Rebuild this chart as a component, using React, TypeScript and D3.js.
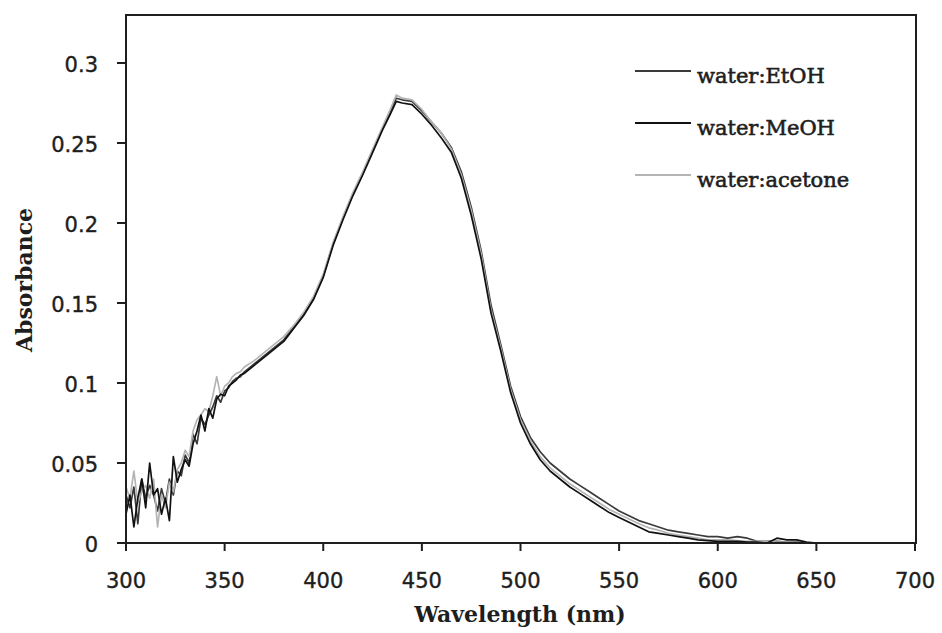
import React from "react";
import * as d3 from "d3";

const wavelengths = [
  300, 302, 304, 306, 308, 310, 312, 314, 316, 318, 320, 322, 324, 326, 328, 330,
  332, 334, 336, 338, 340, 342, 344, 346, 348, 350, 352, 354, 356, 358, 360,
  365, 370, 375, 380, 385, 390, 395, 400, 405, 410, 415, 420, 425, 430, 434, 437,
  440, 445, 450, 455, 460, 465, 470, 475, 480, 485, 490, 495, 500, 505, 510, 515,
  520, 525, 530, 535, 540, 545, 550, 555, 560, 565, 570, 575, 580, 585, 590, 595,
  600, 605, 610, 615, 620, 625, 630, 635, 640, 645, 650, 655, 660, 665, 670, 675,
  680, 685, 690, 695, 700,
];

const etoh = [
  0.030, 0.022, 0.035, 0.012, 0.040, 0.028, 0.036, 0.030, 0.020, 0.034, 0.025, 0.040, 0.030, 0.045, 0.042, 0.055,
  0.050, 0.068, 0.062, 0.078, 0.074, 0.080, 0.085, 0.092, 0.088, 0.095, 0.097, 0.101, 0.103, 0.104, 0.107,
  0.112, 0.117, 0.122, 0.127, 0.135, 0.143, 0.153, 0.167, 0.187, 0.203, 0.218, 0.231, 0.245, 0.259, 0.270, 0.278,
  0.277, 0.276, 0.270, 0.263, 0.256, 0.247, 0.232, 0.210, 0.183, 0.149, 0.124, 0.098, 0.079, 0.066, 0.057, 0.050,
  0.045, 0.040, 0.036, 0.032, 0.028, 0.024, 0.020, 0.017, 0.014, 0.012, 0.010, 0.008, 0.007, 0.006, 0.005, 0.004,
  0.004, 0.003, 0.004, 0.003, 0.001, 0.001, 0.001, 0.0005, 0.0005, 0.0, 0.0, 0.0, 0.0, 0.0, 0.0, 0.0,
  0.0, 0.0, 0.0, 0.0, 0.0,
];

const meoh = [
  0.018, 0.030, 0.010, 0.028, 0.040, 0.022, 0.050, 0.030, 0.034, 0.018, 0.028, 0.014, 0.054, 0.038, 0.046, 0.052,
  0.048, 0.062, 0.070, 0.080, 0.070, 0.084, 0.078, 0.090, 0.093, 0.092, 0.098, 0.100, 0.102, 0.105, 0.106,
  0.111, 0.116, 0.121, 0.126, 0.134, 0.142, 0.152, 0.166, 0.186, 0.202, 0.217, 0.230, 0.244, 0.258, 0.268, 0.276,
  0.275, 0.274, 0.268, 0.261, 0.253, 0.244, 0.228, 0.205, 0.178, 0.144, 0.120, 0.094, 0.075, 0.062, 0.052, 0.045,
  0.040, 0.035, 0.031, 0.027, 0.023, 0.019, 0.016, 0.013, 0.010, 0.007, 0.006, 0.005, 0.004, 0.003, 0.002, 0.0015,
  0.001, 0.001, 0.001, 0.0005, 0.0005, 0.0, 0.003, 0.002, 0.002, 0.0005, 0.0, 0.0, 0.0, 0.0, 0.0, 0.0,
  0.0, 0.0, 0.0, 0.0, 0.0,
];

const acetone = [
  0.035, 0.028, 0.045, 0.025, 0.032, 0.036, 0.028, 0.040, 0.010, 0.030, 0.022, 0.038, 0.032, 0.046, 0.050, 0.058,
  0.054, 0.070, 0.077, 0.080, 0.084, 0.082, 0.092, 0.104, 0.092, 0.098, 0.100, 0.104, 0.106, 0.107, 0.110,
  0.114, 0.119, 0.124, 0.129, 0.136, 0.144, 0.154, 0.168, 0.188, 0.204, 0.219, 0.232, 0.246, 0.260, 0.271, 0.280,
  0.278, 0.277, 0.271, 0.263, 0.256, 0.246, 0.230, 0.208, 0.181, 0.146, 0.122, 0.096, 0.077, 0.064, 0.054, 0.047,
  0.042, 0.037, 0.033, 0.029, 0.025, 0.021, 0.018, 0.015, 0.012, 0.0095, 0.008, 0.006, 0.005, 0.004, 0.003, 0.002,
  0.002, 0.002, 0.0015, 0.001, 0.001, 0.001, 0.0005, 0.0005, 0.0003, 0.0, 0.0, 0.0, 0.0, 0.0, 0.0, 0.0,
  0.0, 0.0, 0.0, 0.0, 0.0,
];

const seriesNames = ["water:EtOH", "water:MeOH", "water:acetone"];
const seriesColors = ["#3a3a3a", "#111111", "#b4b4b4"];
const xTicks = [300, 350, 400, 450, 500, 550, 600, 650, 700];
const yTicks = [0, 0.05, 0.1, 0.15, 0.2, 0.25, 0.3];
const yTickLabels = ["0", "0.05", "0.1", "0.15", "0.2", "0.25", "0.3"];

const W = 942;
const H = 633;
const left = 126;
const right = 915;
const top = 15;
const bottom = 543;

export default function App() {
  const x = d3.scaleLinear().domain([300, 700]).range([left, right]);
  const y = d3.scaleLinear().domain([0, 0.33]).range([bottom, top]);
  const allSeries = [etoh, meoh, acetone];
  const line = d3
    .line<number>()
    .x((_, i) => x(wavelengths[i]))
    .y((d) => y(d));
  const drawOrder = [0, 2, 1];
  const tickFont = "'DejaVu Sans', sans-serif";
  const serif = "'DejaVu Serif', serif";
  const ink = "#1e1e1e";

  return (
    <svg
      width={W}
      height={H}
      style={{ position: "absolute", left: 0, top: 0, background: "#fff" }}
    >
      <rect x={0} y={0} width={W} height={H} fill="#fff" />
      <g fill="none" strokeLinejoin="round">
        {drawOrder.map((si) => (
          <path
            key={si}
            d={line(allSeries[si]) || ""}
            stroke={seriesColors[si]}
            strokeWidth={1.7}
          />
        ))}
      </g>
      <rect
        x={left}
        y={top}
        width={right + 1 - left}
        height={bottom - top}
        fill="none"
        stroke={ink}
        strokeWidth={2}
      />
      <g>
        {yTicks.map((t, i) => (
          <g key={t}>
            <line x1={left - 9} x2={left} y1={y(t)} y2={y(t)} stroke={ink} strokeWidth={2} />
            <text
              x={98}
              y={y(t) + 9}
              textAnchor="end"
              fontFamily={tickFont}
              fontSize={21}
              fill={ink}
              stroke={ink}
              strokeWidth={0.4}
            >
              {yTickLabels[i]}
            </text>
          </g>
        ))}
      </g>
      <g>
        {xTicks.map((t) => (
          <g key={t}>
            <line x1={x(t)} x2={x(t)} y1={bottom} y2={bottom + 8} stroke={ink} strokeWidth={2} />
            <text
              x={x(t)}
              y={588}
              textAnchor="middle"
              fontFamily={tickFont}
              fontSize={21}
              fill={ink}
              stroke={ink}
              strokeWidth={0.4}
            >
              {t}
            </text>
          </g>
        ))}
      </g>
      <text
        x={520}
        y={622}
        textAnchor="middle"
        fontFamily={serif}
        fontWeight="bold"
        fontSize={22}
        fill={ink}
      >
        Wavelength (nm)
      </text>
      <text
        transform="translate(32,280) rotate(-90)"
        textAnchor="middle"
        fontFamily={serif}
        fontWeight="bold"
        fontSize={22}
        fill={ink}
      >
        Absorbance
      </text>
      <g>
        {seriesNames.map((name, i) => (
          <g key={name} transform={`translate(0, ${i * 52})`}>
            <line x1={635} x2={691} y1={71} y2={71} stroke={seriesColors[i]} strokeWidth={2} />
            <text
              x={697}
              y={83}
              fontFamily={serif}
              fontSize={21}
              fill={ink}
              stroke={ink}
              strokeWidth={0.6}
            >
              {name}
            </text>
          </g>
        ))}
      </g>
    </svg>
  );
}
